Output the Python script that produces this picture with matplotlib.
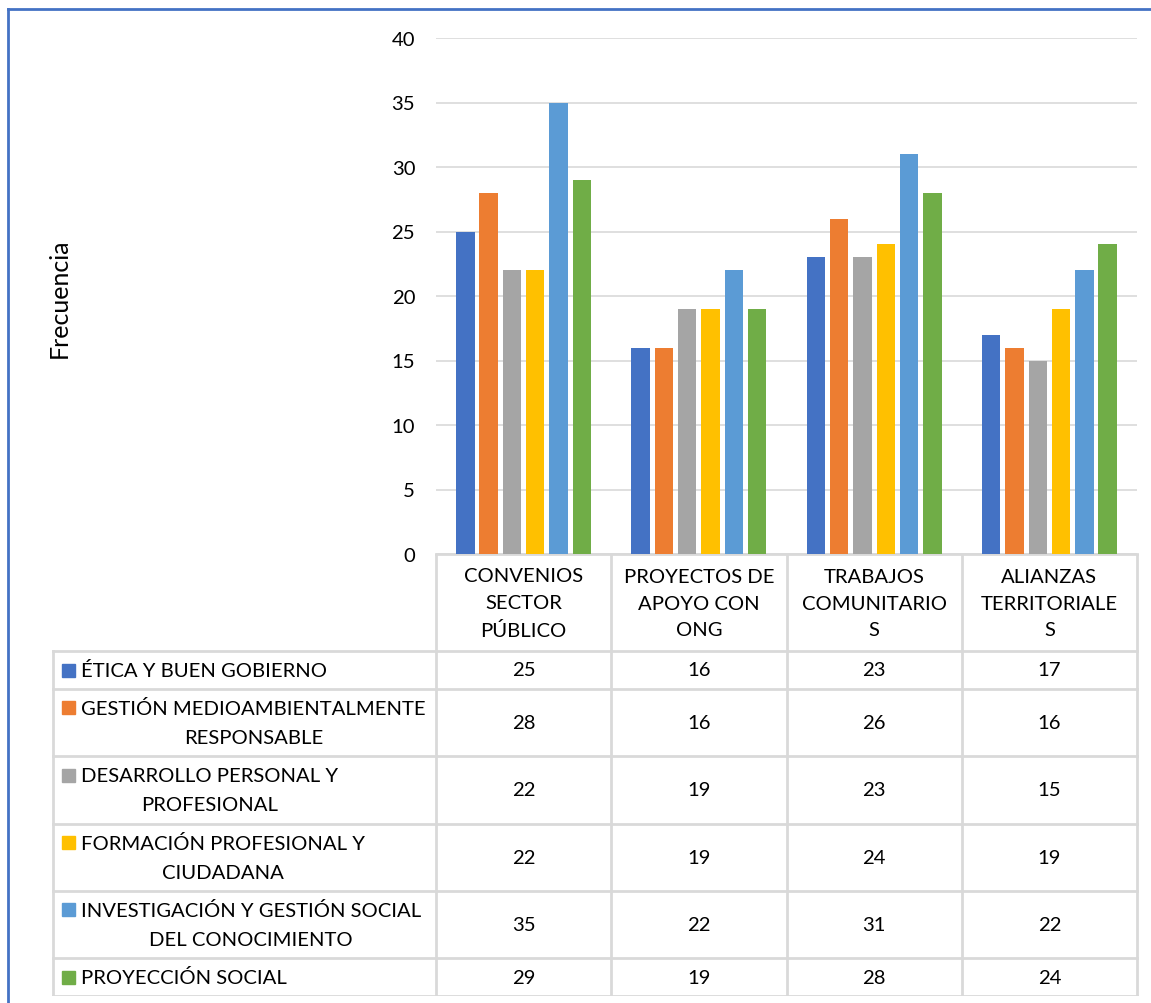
import matplotlib
matplotlib.use("Agg")
import matplotlib.pyplot as plt
from matplotlib import transforms
from matplotlib.lines import Line2D
from matplotlib.patches import Rectangle

plt.rcParams['font.family'] = ['Lato', 'DejaVu Sans']

categorias = ["CONVENIOS\nSECTOR\nPÚBLICO", "PROYECTOS DE\nAPOYO CON\nONG",
              "TRABAJOS\nCOMUNITARIO\nS", "ALIANZAS\nTERRITORIALE\nS"]
series = ["ÉTICA Y BUEN GOBIERNO",
          "GESTIÓN MEDIOAMBIENTALMENTE\nRESPONSABLE",
          "DESARROLLO PERSONAL Y\nPROFESIONAL",
          "FORMACIÓN PROFESIONAL Y\nCIUDADANA",
          "INVESTIGACIÓN Y GESTIÓN SOCIAL\nDEL CONOCIMIENTO",
          "PROYECCIÓN SOCIAL"]
etica = [25, 16, 23, 17]
gestion = [28, 16, 26, 16]
desarrollo = [22, 19, 23, 15]
formacion = [22, 19, 24, 19]
investigacion = [35, 22, 31, 22]
proyeccion = [29, 19, 28, 24]
valores = [etica, gestion, desarrollo, formacion, investigacion, proyeccion]
colores = ["#4472C4", "#ED7D31", "#A5A5A5", "#FFC000", "#5B9BD5", "#70AD47"]

W, H = 1151, 1004
FS = 14.6
GRID = "#D9D9D9"

fig = plt.figure(figsize=(W / 100, H / 100), dpi=100)


def rect(x0, y0, x1, y1):
    return [x0 / W, 1 - y1 / H, (x1 - x0) / W, (y1 - y0) / H]


# chart area
ax = fig.add_axes(rect(436, 39, 1137, 555))
n = len(valores)
ancho = 0.105
paso = 0.133
for i, (vals, c) in enumerate(zip(valores, colores)):
    xs = [k + (i - (n - 1) / 2) * paso for k in range(len(categorias))]
    ax.bar(xs, vals, width=ancho, color=c, zorder=3)
ax.set_xlim(-0.5, len(categorias) - 0.5)
ax.set_ylim(0, 40)
ax.set_yticks(range(0, 41, 5))
ax.tick_params(axis='y', length=0, labelsize=FS, pad=15)
ax.set_xticks([])
ax.grid(axis='y', color=GRID, lw=1.2, zorder=0)
for s in ['top', 'right', 'left']:
    ax.spines[s].set_visible(False)
ax.spines['bottom'].set_color(GRID)
ax.spines['bottom'].set_linewidth(2)

fig.text(59 / W, 1 - 298 / H, "Frecuencia", rotation=90, fontsize=18,
         ha='center', va='center')

# data table under the chart
tab = fig.add_axes(rect(0, 555, W, 997))
tab.set_xlim(0, W)
tab.set_ylim(997, 555)
tab.axis('off')
tr = transforms.blended_transform_factory(ax.transData, tab.transData)

alturas = [38, 67, 68, 67, 67, 38]
bordes = [652]
for h in alturas:
    bordes.append(bordes[-1] + h)

ncat = len(categorias)
for k, cat in enumerate(categorias):
    tab.text(k, 604, cat, transform=tr, ha='center', va='center',
             fontsize=FS, linespacing=1.7)
for k in range(ncat + 1):
    tab.add_line(Line2D([k - 0.5, k - 0.5], [555, bordes[-1]], transform=tr,
                        color=GRID, lw=2))
for y in bordes:
    tab.plot([53, 1137], [y, y], color=GRID, lw=2)
tab.plot([53, 53], [bordes[0], bordes[-1]], color=GRID, lw=2)

for i, (nombre, vals, c) in enumerate(zip(series, valores, colores)):
    yc = (bordes[i] + bordes[i + 1]) / 2
    ym = yc - 6.5 if '\n' not in nombre else yc - 21.5
    tab.add_patch(Rectangle((62, ym), 13, 13, color=c))
    tab.text(81, yc, nombre, ha='left', va='center', multialignment='center',
             fontsize=FS, linespacing=1.8)
    for k, v in enumerate(vals):
        tab.text(k, yc, str(v), transform=tr, ha='center', va='center',
                 fontsize=FS)

# outer frame of the chart object
fig.add_artist(Line2D([8 / W, 8 / W], [0, 1 - 10 / H], color="#4472C4", lw=2))
fig.add_artist(Line2D([8 / W, 1], [1 - 10 / H, 1 - 10 / H], color="#4472C4", lw=2))

fig.savefig("out.png", dpi=100)
